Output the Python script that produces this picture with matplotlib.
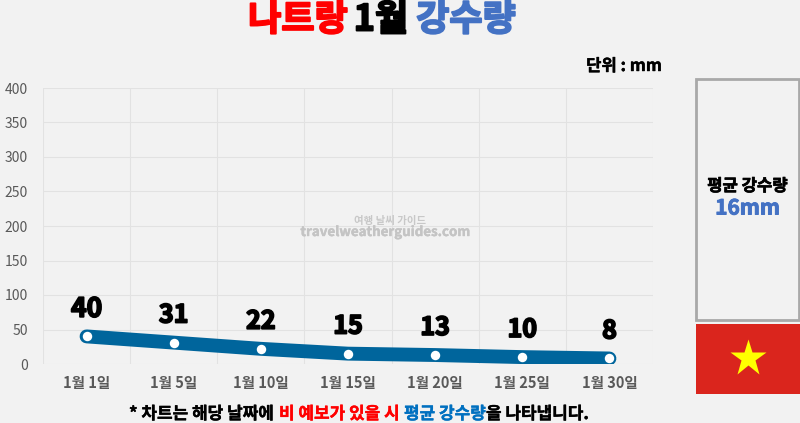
import matplotlib
matplotlib.use('Agg')
import matplotlib.pyplot as plt
import matplotlib.patheffects as pe
from matplotlib.patches import Rectangle

plt.rcParams['font.family'] = ['Noto Sans CJK KR', 'DejaVu Sans']

days = ['1월 1일', '1월 5일', '1월 10일', '1월 15일', '1월 20일', '1월 25일', '1월 30일']
rain = [40, 31, 22, 15, 13, 10, 8]
y_ticks = [0, 50, 100, 150, 200, 250, 300, 350, 400]

W, H = 800, 423
BG = '#f2f2f2'
BLUE = '#4472c4'
RED = '#ff0000'


def put(x, y, s, size, color='black', ha='center', stroke=0.0):
    # x, y в пикселях картинки, y сверху вниз
    t = fig.text(x / W, 1 - y / H, s, fontsize=size, color=color, ha=ha, va='center', weight='bold')
    if stroke:
        t.set_path_effects([pe.Stroke(linewidth=stroke, foreground=color), pe.Normal()])
    return t


fig = plt.figure(figsize=(8, 4.23), dpi=100, facecolor=BG)

ax = fig.add_axes([43 / W, (H - 364) / H, 610 / W, 276 / H], facecolor=BG)
x = list(range(len(days)))
ax.plot(x, rain, color='#00659c', lw=10, solid_capstyle='round', solid_joinstyle='round', zorder=3)
ax.plot(x, rain, ls='none', marker='o', ms=6.8, mfc='white', mec='none', zorder=4)

ax.set_xlim(-0.5, 6.5)
ax.set_ylim(0, 400)
ax.set_yticks(y_ticks)
ax.set_xticks([i - 0.5 for i in range(8)], minor=True)
ax.set_xticks(x)
ax.set_xticklabels(days, fontsize=10.5, weight='bold', color='#595959')
ax.tick_params(axis='x', which='both', length=0, pad=8)
ax.tick_params(axis='y', length=0, pad=11, labelsize=10, labelcolor='#595959')
ax.grid(True, axis='y', color='#e2e2e2', lw=0.8)
ax.grid(True, axis='x', which='minor', color='#e2e2e2', lw=0.8)
ax.grid(False, axis='x', which='major')
ax.set_axisbelow(True)
for s in ax.spines.values():
    s.set_visible(False)

for i, v in enumerate(rain):
    t = ax.annotate(str(v), (i, v), xytext=(0, 19.5), textcoords='offset points', ha='center', va='center',
                    fontsize=19 if i == 0 else 18, weight='bold', color='black', zorder=5)
    t.set_path_effects([pe.Stroke(linewidth=1.3, foreground='black'), pe.Normal()])

# заголовок
put(298, 20, '나트랑', 26, RED, stroke=1.4)
put(381, 20, '1월', 26, 'black', stroke=1.4)
put(466, 20, '강수량', 26, BLUE, stroke=1.4)
put(624, 66, '단위 : mm', 12, 'black', stroke=0.3)

# водяной знак
put(390, 220.5, '여행 날씨 가이드', 7.5, '#c8c8c8')
put(385, 232, 'travelweatherguides.com', 9.6, '#c4c4c4', stroke=0.3)

# правая панель и флаг
over = fig.add_axes([0, 0, 1, 1], facecolor='none')
over.set_xlim(0, W)
over.set_ylim(H, 0)
over.axis('off')
over.add_patch(Rectangle((696, 79), 103, 241, fc=BG, ec='#a9a9a9', lw=2))
over.add_patch(Rectangle((696, 324), 104, 70, fc='#da251d', ec='none'))
over.plot([747.5], [358], marker='*', ms=28, mfc='#ffff00', mec='none', ls='none')
put(747.5, 186, '평균 강수량', 12, 'black', stroke=0.5)
put(747.5, 208, '16mm', 15, BLUE, stroke=0.7)

# сноска
parts = [(129, '* 차트는 해당 날짜에', 'black'), (279, '비 예보가 있을 시', RED),
         (404, '평균 강수량', '#0070c0'), (486, '을 나타냅니다.', 'black')]
for px, s, c in parts:
    put(px, 414, s, 12.2, c, ha='left', stroke=0.3)

fig.savefig('out.png', dpi=100, facecolor=BG)
